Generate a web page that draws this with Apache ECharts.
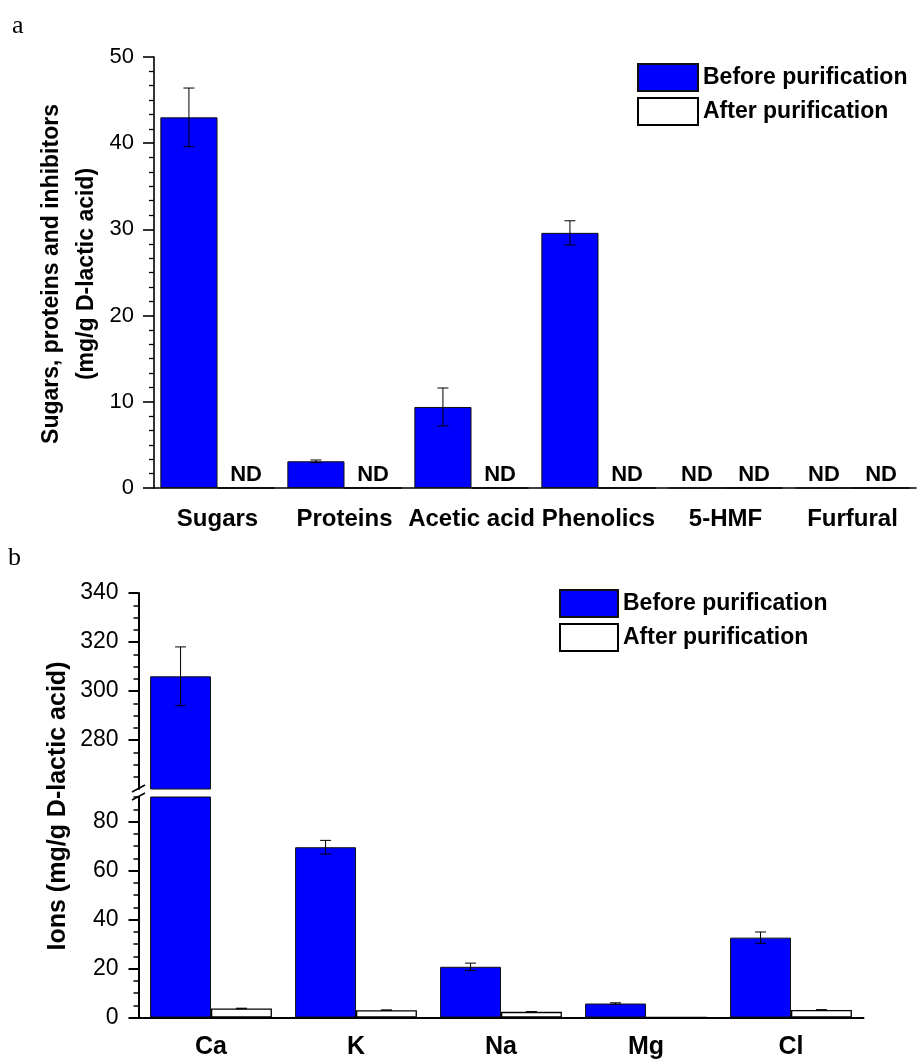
<!DOCTYPE html>
<html><head><meta charset="utf-8">
<script src="https://cdn.jsdelivr.net/npm/echarts@6/dist/echarts.min.js"></script>
<style>html,body{margin:0;padding:0;background:#fff}#c{width:919px;height:1059px}</style>
</head><body><div id="c"></div>
<script>
// ---- Panel a data ----
const categoriesA = ['Sugars', 'Proteins', 'Acetic acid', 'Phenolics', '5-HMF', 'Furfural'];
const beforeA = [43.0, 3.1, 9.4, 29.6, 0, 0];          // 0 = ND
const beforeErrA = [3.4, 0.15, 2.2, 1.4, null, null];
const afterA = [0, 0, 0, 0, 0, 0];                     // all ND
const ticksA = [0, 10, 20, 30, 40, 50];

// ---- Panel b data ----
const categoriesB = ['Ca', 'K', 'Na', 'Mg', 'Cl'];
const beforeB = [306, 69.5, 20.7, 5.7, 32.6];
const beforeErrB = [12, 2.8, 1.5, 0.3, 2.3];
const afterB = [3.7, 3.0, 2.3, 0, 3.1];
const afterErrB = [0.1, 0.1, 0.1, null, 0.1];
const ticksBUpper = [280, 300, 320, 340];
const ticksBLower = [0, 20, 40, 60, 80];
const seriesNames = ['Before purification', 'After purification'];

const FONT = 'Arial, "Liberation Sans", sans-serif';
const BLUE = '#0000ff';
const GAP_A = 0.10, GAP_B = 0.16;
const UPPER_MIN = 260, UPPER_MAX = 340, LOWER_MAX = 90;

function errRender(gapFrac) {
  return function (params, api) {
    const i = api.value(0), v = api.value(1), e = api.value(2), side = api.value(3);
    const c = api.coord([i, v]);
    const band = api.size([1, 0])[0];
    const bw = band * (1 - gapFrac) / 2;
    const x = c[0] + side * bw / 2;
    const top = api.coord([i, v + e])[1], bot = api.coord([i, v - e])[1];
    const cap = 5.5;
    const st = { stroke: '#000', lineWidth: 1 };
    return { type: 'group', children: [
      { type: 'line', shape: { x1: x, y1: top, x2: x, y2: bot }, style: st },
      { type: 'line', shape: { x1: x - cap, y1: top, x2: x + cap, y2: top }, style: st },
      { type: 'line', shape: { x1: x - cap, y1: bot, x2: x + cap, y2: bot }, style: st }
    ] };
  };
}
function errData(vals, errs, side, keep) {
  const out = [];
  vals.forEach((v, i) => { if (errs[i] != null && keep(v)) out.push([i, v, errs[i], side]); });
  return out;
}
function ndLabel(dist) {
  return {
    show: true, position: 'top', distance: dist,
    formatter: p => (p.value === 0 ? 'ND' : ''),
    fontFamily: FONT, fontWeight: 'bold', fontSize: 22, color: '#000'
  };
}
const axisLineStyle = { color: '#000', width: 1.6 };
const tickLabel = { color: '#000', fontFamily: FONT, fontSize: 22, margin: 20 };
const catLabel = { color: '#000', fontFamily: FONT, fontSize: 24, fontWeight: 'bold', margin: 19, interval: 0 };
const beforeStyle = { color: BLUE, borderColor: '#111', borderWidth: 1 };
const afterStyle = { color: '#fff', borderColor: '#000', borderWidth: 1.3 };
const legendBase = {
  data: seriesNames, orient: 'vertical', icon: 'rect', itemGap: 5, itemHeight: 27,
  selectedMode: false,
  textStyle: { fontFamily: FONT, fontWeight: 'bold', fontSize: 23, color: '#000' }
};

const option = {
  animation: false,
  backgroundColor: '#fff',
  grid: [
    { left: 154, top: 57, width: 762, height: 431, outerBoundsMode: 'none', containLabel: false },
    { left: 138.5, top: 593, width: 725, height: 196, outerBoundsMode: 'none', containLabel: false },
    { left: 138.5, top: 797, width: 725, height: 220.5, outerBoundsMode: 'none', containLabel: false }
  ],
  legend: [
    Object.assign({}, legendBase, { left: 632, top: 58, itemWidth: 60 }),
    Object.assign({}, legendBase, { left: 554, top: 584, itemWidth: 58 })
  ],
  xAxis: [
    { type: 'category', gridIndex: 0, data: categoriesA, position: 'bottom',
      axisLine: { lineStyle: axisLineStyle },
      axisTick: { alignWithLabel: true, length: 10, lineStyle: axisLineStyle },
      axisLabel: catLabel, splitLine: { show: false } },
    { type: 'category', gridIndex: 1, data: categoriesB, position: 'bottom',
      axisLine: { show: false }, axisTick: { show: false }, axisLabel: { show: false } },
    { type: 'category', gridIndex: 2, data: categoriesB, position: 'bottom',
      axisLine: { lineStyle: { color: '#000', width: 2 } },
      axisTick: { alignWithLabel: true, length: 10, lineStyle: { color: '#000', width: 2 } },
      axisLabel: Object.assign({}, catLabel, { fontSize: 25, margin: 17 }) },
    { type: 'category', gridIndex: 2, data: categoriesB, position: 'bottom',
      axisLine: { show: false },
      axisTick: { alignWithLabel: false, length: 4, lineStyle: { color: '#000', width: 2 } },
      axisLabel: { show: false } }
  ],
  yAxis: [
    { type: 'value', gridIndex: 0, min: 0, max: 50, interval: 10, position: 'left',
      axisLine: { show: true, lineStyle: axisLineStyle },
      axisTick: { show: true, length: 11, lineStyle: axisLineStyle },
      minorTick: { show: true, splitNumber: 6, length: 5, lineStyle: { color: '#000', width: 1.3 } },
      splitLine: { show: false },
      axisLabel: Object.assign({}, tickLabel, { customValues: ticksA }) },
    { type: 'value', gridIndex: 1, min: UPPER_MIN, max: UPPER_MAX, interval: 20, position: 'left',
      axisLine: { show: true, lineStyle: { color: '#000', width: 2 } },
      axisTick: { show: true, length: 10, customValues: ticksBUpper, lineStyle: { color: '#000', width: 2 } },
      minorTick: { show: true, splitNumber: 4, length: 5, lineStyle: { color: '#000', width: 1.5 } },
      splitLine: { show: false },
      axisLabel: Object.assign({}, tickLabel, { fontSize: 23, customValues: ticksBUpper }) },
    { type: 'value', gridIndex: 2, min: 0, max: LOWER_MAX, interval: 20, position: 'left',
      axisLine: { show: true, lineStyle: { color: '#000', width: 2 } },
      axisTick: { show: true, length: 10, customValues: ticksBLower, lineStyle: { color: '#000', width: 2 } },
      splitLine: { show: false },
      axisLabel: Object.assign({}, tickLabel, { fontSize: 23, customValues: ticksBLower }) },
    { type: 'value', gridIndex: 2, min: 0, max: LOWER_MAX, interval: 5, position: 'left',
      axisLine: { show: false },
      axisTick: { show: true, length: 5, lineStyle: { color: '#000', width: 1.5 } },
      splitLine: { show: false }, axisLabel: { show: false } }
  ],
  series: [
    { name: seriesNames[0], type: 'bar', xAxisIndex: 0, yAxisIndex: 0, data: beforeA,
      barGap: '0%', barCategoryGap: (GAP_A * 100) + '%', itemStyle: beforeStyle, label: ndLabel(1.5) },
    { name: seriesNames[1], type: 'bar', xAxisIndex: 0, yAxisIndex: 0, data: afterA,
      itemStyle: afterStyle, label: ndLabel(1) },
    { name: 'errA', type: 'custom', xAxisIndex: 0, yAxisIndex: 0, renderItem: errRender(GAP_A),
      encode: { x: 0, y: 1 }, data: errData(beforeA, beforeErrA, -1, () => true), z: 5 },

    { name: seriesNames[0], type: 'bar', xAxisIndex: 1, yAxisIndex: 1,
      data: beforeB.map(v => (v > UPPER_MIN ? v : '-')),
      barGap: '0%', barCategoryGap: (GAP_B * 100) + '%', itemStyle: beforeStyle, clip: true },
    { name: seriesNames[1], type: 'bar', xAxisIndex: 1, yAxisIndex: 1,
      data: afterB.map(v => (v > UPPER_MIN ? v : '-')), itemStyle: afterStyle, clip: true },
    { name: 'errBu', type: 'custom', xAxisIndex: 1, yAxisIndex: 1, renderItem: errRender(GAP_B),
      encode: { x: 0, y: 1 }, clip: true,
      data: errData(beforeB, beforeErrB, -1, v => v > LOWER_MAX), z: 5 },

    { name: seriesNames[0], type: 'bar', xAxisIndex: 2, yAxisIndex: 2, data: beforeB,
      barGap: '0%', barCategoryGap: (GAP_B * 100) + '%', itemStyle: beforeStyle, clip: true },
    { name: seriesNames[1], type: 'bar', xAxisIndex: 2, yAxisIndex: 2, data: afterB,
      itemStyle: afterStyle, clip: true },
    { name: 'errBl', type: 'custom', xAxisIndex: 2, yAxisIndex: 2, renderItem: errRender(GAP_B),
      encode: { x: 0, y: 1 }, clip: true,
      data: errData(beforeB, beforeErrB, -1, v => v <= LOWER_MAX)
        .concat(errData(afterB, afterErrB, 1, v => v <= LOWER_MAX)), z: 5 }
  ],
  graphic: [
    { type: 'text', x: 12, y: 13, style: { text: 'a', font: '26px "Liberation Serif", "Times New Roman", serif', fill: '#000', verticalAlign: 'top' } },
    { type: 'text', x: 8, y: 545, style: { text: 'b', font: '26px "Liberation Serif", "Times New Roman", serif', fill: '#000', verticalAlign: 'top' } },
    { type: 'text', x: 69, y: 274, rotation: Math.PI / 2,
      style: { text: 'Sugars, proteins and inhibitors\n(mg/g D-lactic acid)', font: 'bold 23px ' + FONT,
        lineHeight: 35, fill: '#000', align: 'center', verticalAlign: 'middle' } },
    { type: 'text', x: 58, y: 806, rotation: Math.PI / 2,
      style: { text: 'Ions (mg/g D-lactic acid)', font: 'bold 25px ' + FONT,
        fill: '#000', align: 'center', verticalAlign: 'middle' } },
    { type: 'line', shape: { x1: 132, y1: 792, x2: 145, y2: 785 }, style: { stroke: '#000', lineWidth: 1.5 } },
    { type: 'line', shape: { x1: 132, y1: 800, x2: 145, y2: 793 }, style: { stroke: '#000', lineWidth: 1.5 } }
  ]
};
echarts.init(document.getElementById('c')).setOption(option);
</script>
</body></html>
